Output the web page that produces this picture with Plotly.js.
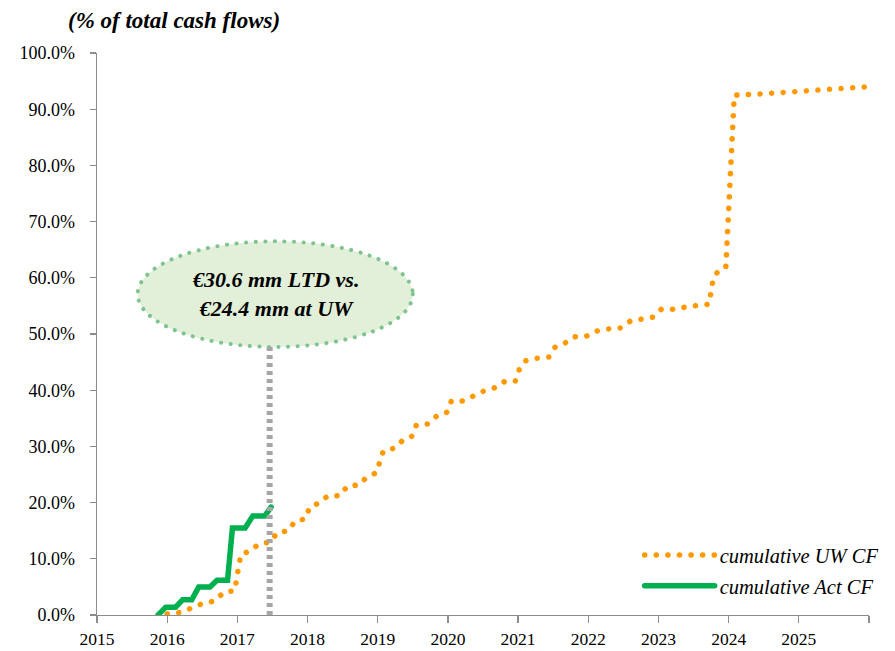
<!DOCTYPE html>
<html>
<head>
<meta charset="utf-8">
<script src="https://cdn.plot.ly/plotly-3.0.1.min.js"></script>
<style>
  html, body { margin: 0; padding: 0; background: #fff; }
  #chart { width: 895px; height: 651px; }
  .main-svg path.js-line { stroke-linecap: round; }
  .shapelayer path[data-index="0"] { stroke-linecap: round; }
</style>
</head>
<body>
<div id="chart"></div>
<script>
// Underwriting cumulative cash flow (% of total), x in decimal years
const uwYears = [2016.00, 2016.22, 2016.37, 2016.52, 2016.68, 2016.81, 2016.96, 2017.05, 2017.19, 2017.30,
  2017.48, 2017.56, 2017.73, 2017.82, 2017.97, 2018.03, 2018.16, 2018.29, 2018.46, 2018.57,
  2018.73, 2018.84, 2018.98, 2019.08, 2019.24, 2019.35, 2019.48, 2019.55, 2019.72, 2019.84,
  2019.98, 2020.05, 2020.22, 2020.36, 2020.52, 2020.66, 2020.80, 2020.96, 2021.02, 2021.10,
  2021.27, 2021.44, 2021.53, 2021.67, 2021.80, 2021.97, 2022.11, 2022.28, 2022.47, 2022.60,
  2022.75, 2022.92, 2023.04, 2023.22, 2023.39, 2023.56, 2023.72, 2023.78, 2023.85, 2023.96,
  2024.08, 2024.43, 2024.96, 2025.13, 2025.82, 2026.00];
const uwValues = [0.2, 0.5, 1.4, 2.1, 2.5, 4.1, 4.3, 10.8, 11.4, 12.6,
  13.0, 14.6, 15.0, 16.7, 17.1, 19.2, 19.9, 21.2, 21.2, 23.0,
  23.1, 24.5, 25.3, 29.2, 29.7, 31.0, 31.7, 33.8, 34.0, 35.4,
  36.0, 38.1, 38.1, 39.0, 39.9, 40.4, 41.5, 41.6, 43.8, 45.2,
  45.7, 45.9, 47.7, 48.4, 49.5, 49.6, 50.5, 50.9, 51.1, 52.3,
  52.7, 53.0, 54.4, 54.4, 54.8, 55.0, 55.3, 59.8, 61.2, 61.9,
  92.5, 92.7, 93.1, 93.4, 93.8, 94.0];

// Actual cumulative cash flow (% of total)
const actYears = [2015.87, 2015.98, 2016.12, 2016.22, 2016.35, 2016.45, 2016.61, 2016.71, 2016.86, 2016.93,
  2017.11, 2017.22, 2017.39, 2017.48];
const actValues = [0.0, 1.4, 1.4, 2.7, 2.7, 5.0, 5.0, 6.2, 6.2, 15.5,
  15.5, 17.6, 17.6, 19.2];

// Axis ticks
const xTickVals = [2015, 2016, 2017, 2018, 2019, 2020, 2021, 2022, 2023, 2024, 2025, 2026];
const xTickText = ["2015", "2016", "2017", "2018", "2019", "2020", "2021", "2022", "2023", "2024", "2025", ""];
const yTickVals = [0, 10, 20, 30, 40, 50, 60, 70, 80, 90, 100];
const yTickText = ["0.0%", "10.0%", "20.0%", "30.0%", "40.0%", "50.0%", "60.0%", "70.0%", "80.0%", "90.0%", "100.0%"];

// Callout
const calloutText = "€30.6 mm LTD vs.<br>€24.4 mm at UW";
const calloutYear = 2017.46;
const calloutBox = { x0: 2015.58, x1: 2019.50, y0: 47.7, y1: 66.5 };

const serif = "Liberation Serif";
const axisGray = "#8c8c8c";

const traces = [
  {
    x: uwYears, y: uwValues, type: "scatter", mode: "lines",
    name: "cumulative UW CF", legendgroup: "uw",
    line: { color: "#ff9900", width: 5.5, dash: "0.1px,11.5px" },
    hoverinfo: "skip"
  },
  {
    x: actYears, y: actValues, type: "scatter", mode: "lines",
    name: "cumulative Act CF", legendgroup: "act",
    line: { color: "#00b050", width: 5.5 },
    hoverinfo: "skip"
  }
];

const layout = {
  width: 895, height: 651,
  margin: { l: 97, r: 25, t: 53, b: 36 },
  paper_bgcolor: "#ffffff", plot_bgcolor: "#ffffff",
  font: { family: serif, size: 16, color: "#000" },
  showlegend: true,
  legend: {
    x: 0.702, y: 0.142, xanchor: "left", yanchor: "top",
    bgcolor: "rgba(0,0,0,0)",
    font: { family: serif, size: 20.5, style: "italic", color: "#000" },
    itemwidth: 70, tracegroupgap: 1
  },
  xaxis: {
    range: [2015, 2026], tickmode: "array", tickvals: xTickVals, ticktext: xTickText,
    showgrid: false, zeroline: false, showline: true, linecolor: axisGray, linewidth: 1.3,
    ticks: "outside", ticklen: 7, tickcolor: axisGray, tickwidth: 1.3,
    ticklabelstandoff: 1,
    tickfont: { family: serif, size: 17.5, color: "#000" }
  },
  yaxis: {
    range: [0, 100], tickmode: "array", tickvals: yTickVals, ticktext: yTickText,
    showgrid: false, zeroline: false, showline: true, linecolor: axisGray, linewidth: 1.3,
    ticks: "outside", ticklen: 6, tickcolor: axisGray, tickwidth: 1.3,
    ticklabelstandoff: 11,
    tickfont: { family: serif, size: 18, color: "#000" }
  },
  shapes: [
    {
      type: "circle", xref: "x", yref: "y",
      x0: calloutBox.x0, x1: calloutBox.x1, y0: calloutBox.y0, y1: calloutBox.y1,
      fillcolor: "#e2efd9",
      line: { color: "#7fc48f", width: 4, dash: "0.1px,9.5px" },
      layer: "above"
    },
    {
      type: "line", xref: "x", yref: "y",
      x0: calloutYear, x1: calloutYear, y0: 0, y1: calloutBox.y0,
      line: { color: "#a6a6a6", width: 6, dash: "4px,4px" },
      layer: "above"
    }
  ],
  annotations: [
    {
      text: "<b><i>(% of total cash flows)</i></b>",
      xref: "paper", yref: "paper", x: -0.04, y: 1.0587,
      xanchor: "left", yanchor: "middle", showarrow: false,
      font: { family: serif, size: 23, color: "#000" }
    },
    {
      text: "<b><i>" + calloutText + "</i></b>",
      xref: "x", yref: "y", x: (calloutBox.x0 + calloutBox.x1) / 2, y: (calloutBox.y0 + calloutBox.y1) / 2,
      xanchor: "center", yanchor: "middle", showarrow: false, align: "center",
      font: { family: serif, size: 22, color: "#000" }
    }
  ]
};

Plotly.newPlot("chart", traces, layout, { displayModeBar: false, staticPlot: true });
</script>
</body>
</html>
